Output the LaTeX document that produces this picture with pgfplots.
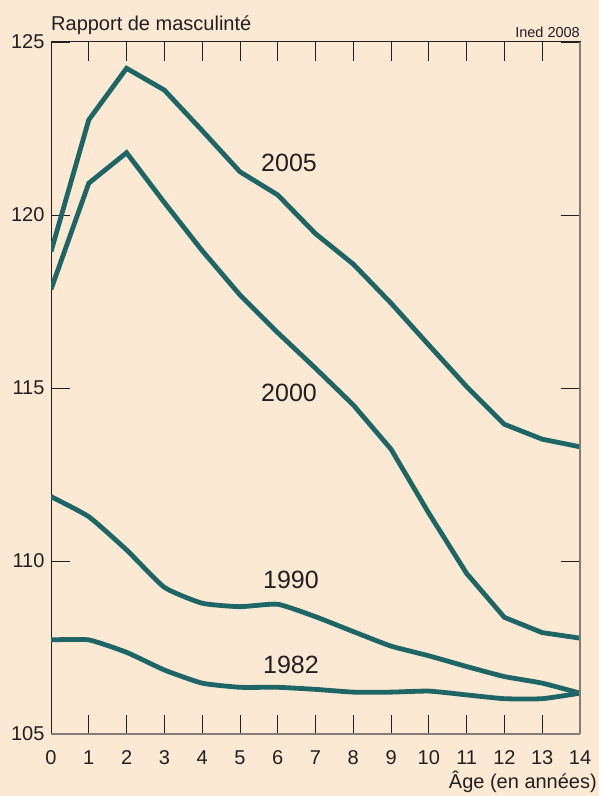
\documentclass[border=0pt]{standalone}
\usepackage{pgfplots}
\pgfplotsset{compat=1.18}
\usepackage{fontspec}
\setmainfont{Liberation Sans}
\definecolor{bg}{HTML}{FCE9D3}
\definecolor{tealc}{HTML}{1E6666}
\definecolor{txt}{HTML}{231F20}
\definecolor{axg}{HTML}{857A76}
\tikzset{serie/.style={color=tealc, line width=4.8pt, mark=none}}
\begin{document}
\begin{tikzpicture}
\fill[bg] (0pt,0pt) rectangle (599pt,796pt);
\useasboundingbox (0pt,0pt) rectangle (599pt,796pt);
\begin{axis}[
  at={(51pt,62pt)}, anchor=south west,
  scale only axis, width=529pt, height=692pt,
  xmin=0, xmax=14, ymin=105, ymax=125,
  xtick={0,...,14}, ytick={105,110,...,125},
  tick align=inside,
  major tick length=19pt,
  tick style={color=txt, line width=0.8pt},
  axis line style={color=txt, line width=1pt},
  ticklabel style={font=\fontsize{20}{23}\selectfont, text=txt},
  /pgf/number format/assume math mode=true,
  xticklabel style={yshift=-13pt},
  yticklabel style={xshift=-3pt},
]
\addplot[serie] table {
x y
0 118.94
1 122.75
2 124.24
3 123.61
4 122.44
5 121.25
6 120.58
7 119.46
8 118.58
9 117.45
10 116.24
11 115.04
12 113.95
13 113.52
14 113.30
};
\addplot[serie] table {
x y
0 117.85
1 120.92
2 121.80
3 120.36
4 118.97
5 117.69
6 116.60
7 115.57
8 114.51
9 113.23
10 111.38
11 109.64
12 108.37
13 107.93
14 107.77
};
\addplot[serie, smooth, tension=0.3] table {
x y
0 111.86
1 111.28
2 110.32
3 109.24
4 108.78
5 108.68
6 108.75
7 108.39
8 107.96
9 107.54
10 107.26
11 106.95
12 106.66
13 106.47
14 106.18
};
\addplot[serie, smooth, tension=0.3] table {
x y
0 107.72
1 107.72
2 107.36
3 106.85
4 106.47
5 106.35
6 106.35
7 106.29
8 106.21
9 106.21
10 106.24
11 106.13
12 106.02
13 106.02
14 106.18
};
\node[font=\fontsize{25}{30}\selectfont, text=txt] at (axis cs:6.3,121.5) {2005};
\node[font=\fontsize{25}{30}\selectfont, text=txt] at (axis cs:6.3,114.86) {2000};
\node[font=\fontsize{25}{30}\selectfont, text=txt] at (axis cs:6.35,109.45) {1990};
\node[font=\fontsize{25}{30}\selectfont, text=txt] at (axis cs:6.35,107.0) {1982};
\end{axis}
\draw[axg, line width=1.2pt] (580pt,62pt) -- (580pt,754pt);
\draw[axg, line width=1.2pt] (51pt,62pt) -- (580pt,62pt);
\node[anchor=base west, inner sep=0pt, font=\fontsize{20}{24}\selectfont, text=txt] at (51pt,765pt) {Rapport de masculinté};
\node[anchor=base east, inner sep=0pt, font=\fontsize{14.5}{17}\selectfont, text=txt] at (580pt,758pt) {Ined 2008};
\node[anchor=base east, inner sep=0pt, font=\fontsize{20}{24}\selectfont, text=txt] at (597pt,7pt) {Âge (en années)};
\end{tikzpicture}
\end{document}
